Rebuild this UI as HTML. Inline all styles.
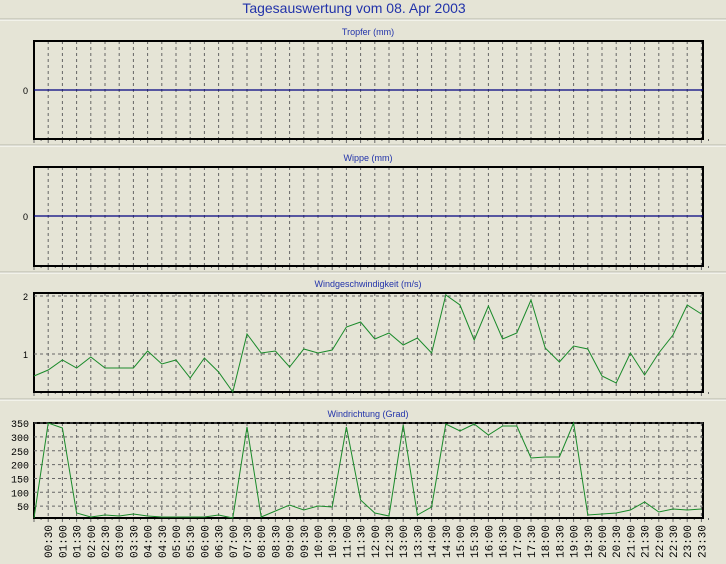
<!DOCTYPE html><html><head><style>body{margin:0;background:#e5e4d6;}svg{display:block}</style></head><body>
<svg width="726" height="564" xmlns="http://www.w3.org/2000/svg" font-family="Liberation Sans, sans-serif">
<rect width="726" height="564" fill="#e5e4d6"/>
<text x="354" y="13" text-anchor="middle" font-size="14" fill="#2233aa">Tagesauswertung vom 08. Apr 2003</text>
<line x1="0" y1="19" x2="726" y2="19" stroke="#b8b8aa"/><line x1="0" y1="20" x2="726" y2="20" stroke="#fff"/>
<line x1="0" y1="145" x2="726" y2="145" stroke="#b8b8aa"/><line x1="0" y1="146" x2="726" y2="146" stroke="#fff"/>
<line x1="0" y1="272" x2="726" y2="272" stroke="#b8b8aa"/><line x1="0" y1="273" x2="726" y2="273" stroke="#fff"/>
<line x1="0" y1="399" x2="726" y2="399" stroke="#b8b8aa"/><line x1="0" y1="400" x2="726" y2="400" stroke="#fff"/>
<g id="c"></g>
</svg>
<script>
const s=document.getElementById('c');let h='';
const X=i=>34+i*14.2;
function panel(t,top,bot,title){
 h+=`<text x="368" y="${top-6}" text-anchor="middle" font-size="9" fill="#2233aa">${title}</text>`;
 for(let i=1;i<48;i++)h+=`<line x1="${X(i)}" y1="${top}" x2="${X(i)}" y2="${bot}" stroke="#666" stroke-dasharray="3,3"/>`;
 for(let i=0;i<96;i++){let x=34+i*7.1;h+=`<line x1="${x}" y1="${bot}" x2="${x}" y2="${bot+(i%2?2:4)}" stroke="#666"/>`;}
 h+=`<rect x="34" y="${top}" width="669" height="${bot-top}" fill="none" stroke="#000" stroke-width="2"/>`;
}
panel(0,41,139,'Tropfer (mm)');h+=`<line x1="34" y1="90" x2="703" y2="90" stroke="#000080" stroke-width="1.3"/><text x="28" y="94" text-anchor="end" font-size="9">0</text>`;
panel(0,167,266,'Wippe (mm)');h+=`<line x1="34" y1="216" x2="703" y2="216" stroke="#000080" stroke-width="1.3"/><text x="28" y="220" text-anchor="end" font-size="9">0</text>`;
panel(0,293,392,'Windgeschwindigkeit (m/s)');
[296,354].forEach((y,k)=>{h+=`<line x1="34" y1="${y}" x2="703" y2="${y}" stroke="#666" stroke-dasharray="3,3"/><text x="28" y="${y+4}" text-anchor="end" font-size="9">${2-k}</text>`;});
const ws=[376,370,360,368,357,368,368,368,351,364,360,378,358,372,392,334,353,351,367,349,353,350,327,322,339,333,345,338,353,295,305,340,306,339,333,300,348,362,346,349,376,383,353,375,353,335,305,314];
h+=`<polyline fill="none" stroke="#1a8a2a" points="${ws.map((y,i)=>X(i)+','+y).join(' ')}"/>`;
panel(0,423,518,'Windrichtung (Grad)');
for(let v=50;v<=350;v+=50){let y=520-v*0.277;h+=`<line x1="34" y1="${y}" x2="703" y2="${y}" stroke="#666" stroke-dasharray="3,3"/><text x="29" y="${y+4}" text-anchor="end" font-size="10" font-family="Liberation Mono, monospace">${v}</text>`;}
const wd=[518,423,428,513,517,515,516,514,516,517,517,517,517,515,518,427,517,511,505,510,506,507,427,500,513,516,425,515,507,424,431,424,435,426,426,458,457,457,423,515,514,513,510,502,512,509,510,509];
h+=`<polyline fill="none" stroke="#1a8a2a" points="${wd.map((y,i)=>X(i)+','+y).join(' ')}"/>`;
for(let i=1;i<48;i++){let m=i*30,l=String(Math.floor(m/60)).padStart(2,'0')+':'+String(m%60).padStart(2,'0');h+=`<text transform="translate(${X(i)+4},558) rotate(-90)" font-size="11" font-family="Liberation Mono, monospace">${l}</text>`;}
s.innerHTML=h;
</script></body></html>
